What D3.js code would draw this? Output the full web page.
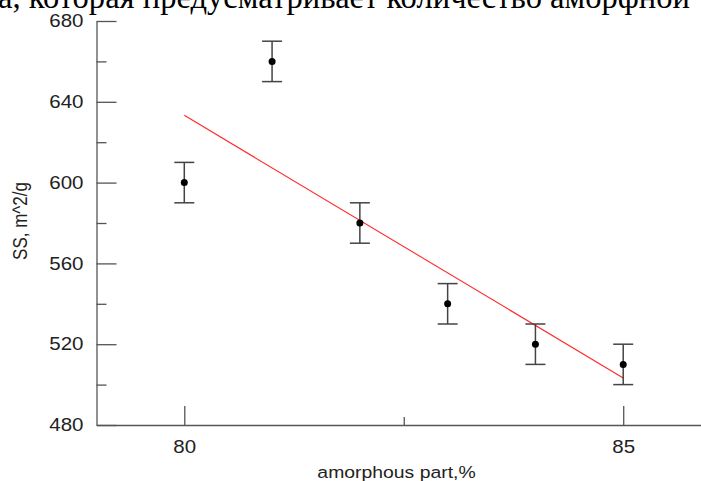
<!DOCTYPE html>
<html>
<head>
<meta charset="utf-8">
<script src="https://cdn.jsdelivr.net/npm/d3@7"></script>
<style>
body { margin: 0; background: #fff; }
svg { display: block; }
.axis path, .axis line { stroke: #555; stroke-width: 1.3; }
.axis text { font-family: "Liberation Sans", Arial, sans-serif; font-size: 18px; fill: #222; }
.axisText { font-family: "Liberation Sans", Arial, sans-serif; font-size: 17px; fill: #222; }
</style>
</head>
<body>
<div id="chart"></div>
<script>
// Data
var amorphous = [80, 81, 82, 83, 84, 85];
var surface = [600, 660, 580, 540, 520, 510];
var surfaceErr = [10, 10, 10, 10, 10, 10];
var fitX = [80, 85];
var fitY = [633.3, 503.3];
var xMajorTicks = [80, 85];
var xMinorTicks = [82.5];
var yMajorTicks = [480, 520, 560, 600, 640, 680];
var yMinorTicks = [500, 540, 580, 620, 660];
var pageText = "а, которая предусматривает количество аморфной";

// chart dimensions
var svgWidth = 701;
var svgHeight = 481;
var margin = { top: 21, right: 0, bottom: 56, left: 96.5 };
var width = 614.5;
var height = svgHeight - margin.top - margin.bottom;
var stretchX = 1.14; // the source picture is stretched sideways

var svg = d3.select("#chart")
  .append("svg")
  .attr("width", svgWidth)
  .attr("height", svgHeight);

// cut-off line of document text above the chart
svg.append("text")
  .attr("x", -2)
  .attr("y", 8)
  .attr("textLength", 692)
  .attr("lengthAdjust", "spacingAndGlyphs")
  .style("font-family", "'Liberation Serif', 'Times New Roman', serif")
  .style("font-size", "34px")
  .attr("fill", "#000")
  .text(pageText);

var chartGroup = svg.append("g")
  .attr("transform", `translate(${margin.left}, ${margin.top})`);

var xScale = d3.scaleLinear().domain([79, 86]).range([0, width]);
var yScale = d3.scaleLinear().domain([480, 680]).range([height, 0]);

function stretch(sel) {
  sel.each(function() {
    var t = d3.select(this);
    var x = +t.attr("x") || 0;
    t.attr("x", x / stretchX).attr("transform", `scale(${stretchX},1)`);
  });
}

// y axis, ticks pointing inward
var yAxis = chartGroup.append("g")
  .attr("class", "axis")
  .call(d3.axisLeft(yScale).tickValues(yMajorTicks).tickSizeInner(-20).tickSizeOuter(0).tickPadding(13).tickFormat(d3.format("d")));
yAxis.selectAll("text").call(stretch);

chartGroup.append("g")
  .attr("class", "axis")
  .call(d3.axisLeft(yScale).tickValues(yMinorTicks).tickSize(-10).tickFormat(""))
  .select(".domain").remove();

// x axis
var xAxis = chartGroup.append("g")
  .attr("class", "axis")
  .attr("transform", `translate(0, ${height})`)
  .call(d3.axisBottom(xScale).tickValues(xMajorTicks).tickSizeInner(-19).tickSizeOuter(0).tickPadding(15).tickFormat(d3.format("d")));
xAxis.selectAll("text").call(stretch);

chartGroup.append("g")
  .attr("class", "axis")
  .attr("transform", `translate(0, ${height})`)
  .call(d3.axisBottom(xScale).tickValues(xMinorTicks).tickSize(-8).tickFormat(""))
  .select(".domain").remove();

// fit line
chartGroup.append("line")
  .attr("x1", xScale(fitX[0]))
  .attr("y1", yScale(fitY[0]))
  .attr("x2", xScale(fitX[1]))
  .attr("y2", yScale(fitY[1]))
  .attr("stroke", "#ff2a2a")
  .attr("stroke-width", 1.1);

// error bars
var bars = chartGroup.selectAll("g.err")
  .data(amorphous)
  .enter()
  .append("g")
  .attr("class", "err")
  .attr("stroke", "#444")
  .attr("stroke-width", 1.5);

bars.append("line")
  .attr("x1", d => xScale(d))
  .attr("x2", d => xScale(d))
  .attr("y1", (d, i) => yScale(surface[i] + surfaceErr[i]))
  .attr("y2", (d, i) => yScale(surface[i] - surfaceErr[i]));

bars.append("line")
  .attr("x1", d => xScale(d) - 10)
  .attr("x2", d => xScale(d) + 10)
  .attr("y1", (d, i) => yScale(surface[i] + surfaceErr[i]))
  .attr("y2", (d, i) => yScale(surface[i] + surfaceErr[i]));

bars.append("line")
  .attr("x1", d => xScale(d) - 10)
  .attr("x2", d => xScale(d) + 10)
  .attr("y1", (d, i) => yScale(surface[i] - surfaceErr[i]))
  .attr("y2", (d, i) => yScale(surface[i] - surfaceErr[i]));

// points
chartGroup.selectAll("circle")
  .data(amorphous)
  .enter()
  .append("circle")
  .attr("cx", d => xScale(d))
  .attr("cy", (d, i) => yScale(surface[i]))
  .attr("r", 3.5)
  .attr("fill", "#000");

// axis labels
svg.append("text")
  .attr("class", "axisText")
  .attr("transform", `translate(27, 221) scale(${stretchX},1) rotate(-90)`)
  .attr("text-anchor", "middle")
  .text("SS, m^2/g");

svg.append("text")
  .attr("class", "axisText")
  .attr("transform", `translate(396.5, 478) scale(${stretchX},1)`)
  .attr("text-anchor", "middle")
  .text("amorphous part,%");
</script>
</body>
</html>
